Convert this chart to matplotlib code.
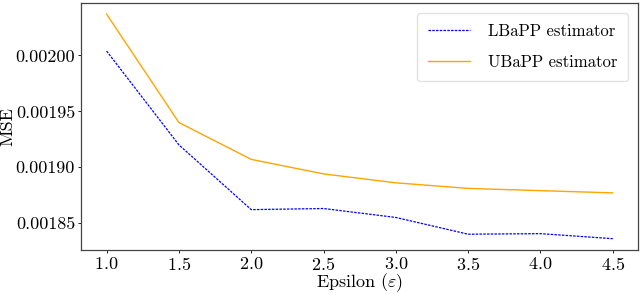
import matplotlib
matplotlib.use("Agg")
import matplotlib.pyplot as plt

epsilon = [1.0, 1.5, 2.0, 2.5, 3.0, 3.5, 4.0, 4.5]
lbapp_mse = [0.002004, 0.001920, 0.001862, 0.001863, 0.001855, 0.001840, 0.0018405, 0.001836]
ubapp_mse = [0.002037, 0.001940, 0.001907, 0.001894, 0.001886, 0.001881, 0.001879, 0.001877]

plt.rcParams["font.family"] = "serif"
plt.rcParams["font.serif"] = ["cmr10"]
plt.rcParams["mathtext.fontset"] = "cm"
plt.rcParams["axes.formatter.use_mathtext"] = True

fig, ax = plt.subplots(figsize=(6.4, 2.94), dpi=100)
ax.plot(epsilon, lbapp_mse, color="blue", linestyle="--", dashes=(2, 1),
        linewidth=0.9, label="LBaPP estimator")
ax.plot(epsilon, ubapp_mse, color="orange", linewidth=1.0, label="UBaPP estimator")

ax.set_xlabel(r"Epsilon ($\varepsilon$)", fontsize=13, labelpad=-1)
ax.set_ylabel("MSE", fontsize=13, labelpad=0)
ax.set_xticks(epsilon)
ax.tick_params(labelsize=13, length=2.5, width=0.6, pad=2)
ax.yaxis.set_major_formatter(matplotlib.ticker.FormatStrFormatter("%.5f"))
for s in ax.spines.values():
    s.set_color("#444444")
    s.set_linewidth(0.9)

ax.legend(loc="upper right", fontsize=12, framealpha=0.8, edgecolor="#dddddd",
          handlelength=2.5, labelspacing=0.95, borderpad=0.65, handletextpad=1.1,
          borderaxespad=0.6)
fig.subplots_adjust(left=0.127, right=0.997, top=0.99, bottom=0.15)
fig.savefig("out.png")
